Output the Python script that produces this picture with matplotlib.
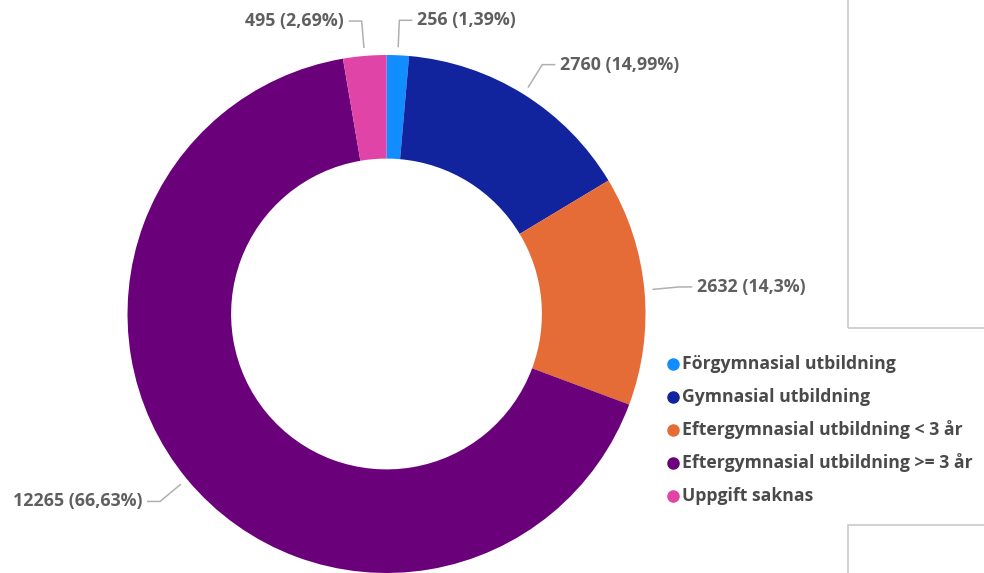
import numpy as np
import matplotlib
matplotlib.use("Agg")
import matplotlib.pyplot as plt
from matplotlib.patches import Rectangle

categories = ["Förgymnasial utbildning", "Gymnasial utbildning",
              "Eftergymnasial utbildning < 3 år", "Eftergymnasial utbildning >= 3 år",
              "Uppgift saknas"]
values = [256, 2760, 2632, 12265, 495]
pct_labels = ["1,39%", "14,99%", "14,3%", "66,63%", "2,69%"]
colors = ["#118DFF", "#12239E", "#E66C37", "#6B007B", "#E044A7"]

W, H = 984, 573
fig = plt.figure(figsize=(W / 100, H / 100), dpi=100)
ax = fig.add_axes([0, 0, 1, 1])
FONT = "Open Sans"
label_color = "#5f5f5f"
legend_color = "#4a4a4a"

cx, cy = 386.5, H - 314
R = 259
wedges, _ = ax.pie(values, colors=colors, startangle=90, counterclock=False,
                   radius=R, center=(cx, cy),
                   wedgeprops=dict(width=R * 0.4, linewidth=0))
ax.set_xlim(0, W)
ax.set_ylim(0, H)
ax.set_aspect("equal")
ax.axis("off")

# data labels with leader lines
for w, v, p in zip(wedges, values, pct_labels):
    ang = np.deg2rad((w.theta1 + w.theta2) / 2)
    c, s = np.cos(ang), np.sin(ang)
    x0, y0 = cx + (R + 8) * c, cy + (R + 8) * s
    x1, y1 = cx + (R + 35) * c, cy + (R + 35) * s
    side = 1 if c >= 0 else -1
    x2 = x1 + side * 13
    ax.plot([x0, x1, x2], [y0, y1, y1], color="#b0b0b0", lw=1.1,
            solid_capstyle="butt")
    ax.text(x2 + side * 5, y1, f"{v} ({p})", ha="left" if side > 0 else "right",
            va="center", fontsize=12.8, fontweight="bold", color=label_color,
            family=FONT)

# legend
lx, ly0, dy = 673, H - 364, 33
for i, (cat, col) in enumerate(zip(categories, colors)):
    y = ly0 - i * dy
    ax.plot([lx], [y], marker="o", ms=8, color=col, mec=col)
    ax.text(lx + 9, y, cat, ha="left", va="center", fontsize=12.7,
            fontweight="bold", color=legend_color, family=FONT)

# decorative panel borders on the right
ax.add_patch(Rectangle((848, H - 328), 200, 340, fill=False,
                       edgecolor="#c8c8c8", lw=1.2, clip_on=True))
ax.add_patch(Rectangle((848, -20), 200, 20 + (H - 525), fill=False,
                       edgecolor="#c8c8c8", lw=1.2, clip_on=True))

fig.savefig("out.png", dpi=100)
